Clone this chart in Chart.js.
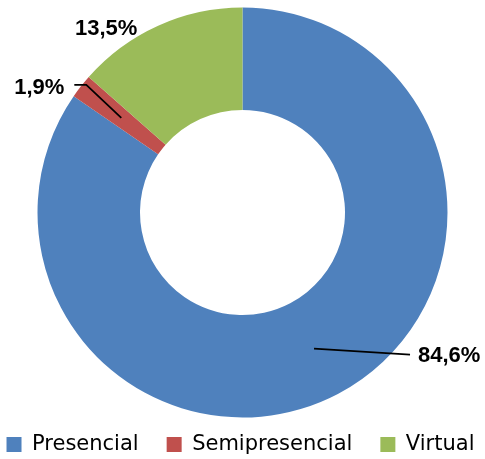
<!DOCTYPE html>
<html>
<head>
<meta charset="utf-8">
<script src="https://cdn.jsdelivr.net/npm/chart.js@4/dist/chart.umd.min.js"></script>
<style>
  html, body { margin: 0; padding: 0; background: #fff; }
  #wrap { width: 485px; height: 459px; }
</style>
</head>
<body>
<div id="wrap"><canvas id="modalidadChart"></canvas></div>
<script>
// Chart data
const categories = ["Presencial", "Semipresencial", "Virtual"];
const shares = [84.6, 1.9, 13.5];
const sliceColors = ["#4F81BD", "#C0504D", "#9BBB59"];

const LABEL_FONT = "'Liberation Sans', Arial, sans-serif";
const LEGEND_FONT = "'DejaVu Sans', sans-serif";

// where each label sits, relative to the slice centroid (Excel moved them by hand)
const labelPlacement = [
  { dx: 104, dy: 7, align: "left", line: true },
  { dx: -57, dy: -30, align: "right", line: true, elbow: 12 },
  { dx: -73, dy: -43, align: "center", line: false },
];

// Draws the percent labels and their leader lines
const sliceLabels = {
  id: "sliceLabels",
  afterDatasetsDraw(chart) {
    const ctx = chart.ctx;
    const meta = chart.getDatasetMeta(0);
    ctx.save();
    ctx.font = "bold 22px " + LABEL_FONT;
    ctx.fillStyle = "#000";
    ctx.strokeStyle = "#000";
    ctx.lineWidth = 1.75;
    ctx.textBaseline = "middle";

    meta.data.forEach((arc, i) => {
      const p = arc.tooltipPosition();
      const pl = labelPlacement[i];
      const lx = p.x + pl.dx;
      const ly = p.y + pl.dy;
      const text = shares[i].toFixed(1).replace(".", ",") + "%";

      if (pl.line) {
        ctx.beginPath();
        ctx.moveTo(p.x, p.y);
        if (pl.elbow) {
          ctx.lineTo(lx + pl.elbow + 10, ly - 3);
          ctx.lineTo(lx + 10, ly - 3);
        } else {
          ctx.lineTo(lx - 8, ly - 1);
        }
        ctx.stroke();
      }

      ctx.textAlign = pl.align;
      ctx.fillText(text, lx, ly);
    });
    ctx.restore();
  },
};

const ctx = document.getElementById("modalidadChart").getContext("2d");

new Chart(ctx, {
  type: "doughnut",
  data: {
    labels: categories,
    datasets: [
      {
        data: shares,
        backgroundColor: sliceColors,
        borderWidth: 0,
      },
    ],
  },
  options: {
    responsive: true,
    maintainAspectRatio: false,
    animation: false,
    events: [],
    radius: 205,
    cutout: "50%",
    // negative side padding lets the legend spread wide like the original
    layout: {
      padding: { top: 19, left: -32, right: -28, bottom: -6 },
    },
    plugins: {
      legend: {
        position: "bottom",
        labels: {
          font: { family: LEGEND_FONT, size: 21 },
          color: "#000",
          boxWidth: 15,
          boxHeight: 15,
          padding: 28,
        },
      },
      tooltip: { enabled: false },
    },
  },
  plugins: [sliceLabels],
});
</script>
</body>
</html>
